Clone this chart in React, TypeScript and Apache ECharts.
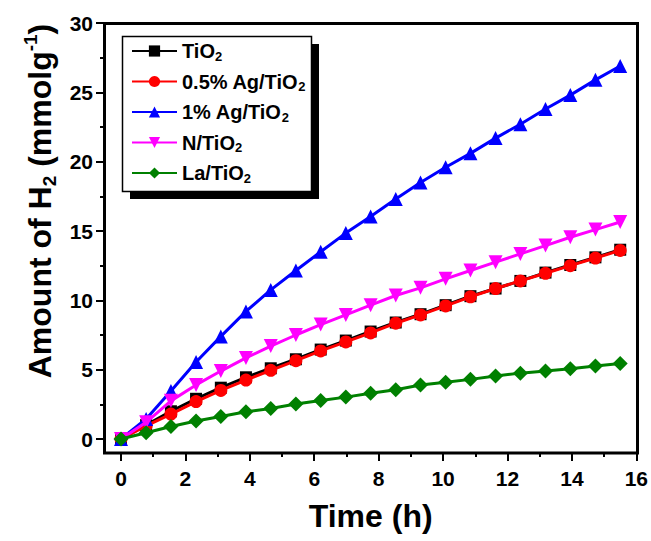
import React, { useEffect, useRef } from 'react';
import * as echarts from 'echarts';

// Time (h) of each measurement
const timeH = [0, 0.78, 1.55, 2.33, 3.1, 3.88, 4.65, 5.43, 6.2, 6.98, 7.75, 8.53, 9.3, 10.08, 10.85, 11.63, 12.4, 13.18, 13.95, 14.73, 15.5];

// Amount of H2 (mmol g^-1)
const tio2 = [0, 1.0, 2.0, 2.9, 3.7, 4.45, 5.1, 5.75, 6.45, 7.1, 7.75, 8.4, 9.0, 9.65, 10.3, 10.85, 11.4, 12.0, 12.55, 13.1, 13.65];
const ag05 = [0, 0.95, 1.8, 2.7, 3.5, 4.25, 4.95, 5.65, 6.35, 7.0, 7.65, 8.35, 8.95, 9.6, 10.25, 10.85, 11.4, 11.95, 12.5, 13.05, 13.6];
const ag1 = [0, 1.45, 3.46, 5.55, 7.4, 9.2, 10.75, 12.15, 13.5, 14.85, 16.05, 17.3, 18.5, 19.6, 20.6, 21.7, 22.7, 23.8, 24.8, 25.9, 26.9];
const nTio2 = [0, 1.2, 2.75, 3.9, 4.9, 5.85, 6.7, 7.5, 8.25, 8.95, 9.65, 10.35, 10.9, 11.55, 12.15, 12.75, 13.35, 13.95, 14.55, 15.1, 15.65];
const laTio2 = [0, 0.45, 0.9, 1.3, 1.62, 1.97, 2.2, 2.52, 2.78, 3.02, 3.3, 3.55, 3.9, 4.1, 4.3, 4.55, 4.75, 4.9, 5.07, 5.26, 5.45];

const seriesNames = ['TiO2', '0.5% Ag/TiO2', '1% Ag/TiO2', 'N/TiO2', 'La/TiO2'];
const legendLabels: Record<string, string> = {
  'TiO2': '{a|TiO}{s|2}',
  '0.5% Ag/TiO2': '{a|0.5% Ag/TiO}{s|2}',
  '1% Ag/TiO2': '{a|1% Ag/TiO}{s|2}',
  'N/TiO2': '{a|N/TiO}{s|2}',
  'La/TiO2': '{a|La/TiO}{s|2}',
};

const xMin = 0, xMax = 16, xInterval = 2, xMinorInterval = 1;
const yMin = 0, yMax = 30, yInterval = 5, yMinorInterval = 2.5;

const FONT = '"Liberation Sans", Arial, Helvetica, sans-serif';

export default function App() {
  const ref = useRef<HTMLDivElement>(null);
  useEffect(() => {
    if (!ref.current) return;
    const chart = echarts.init(ref.current, undefined, { renderer: 'svg' });
    const valueSets = [tio2, ag05, ag1, nTio2, laTio2];
    const colors = ['#000000', '#ff0000', '#0000ff', '#ff00ff', '#008000'];
    const symbols = ['rect', 'circle', 'triangle', 'triangle', 'diamond'];
    const rotates = [0, 0, 0, 180, 0];
    const sizes = [12, 13, 14, 14, 15];

    const series = seriesNames.map((name, k) => ({
      name,
      type: 'line',
      xAxisIndex: 0,
      yAxisIndex: 0,
      data: timeH.map((t, i) => [t, valueSets[k][i]]),
      symbol: symbols[k],
      symbolRotate: rotates[k],
      symbolSize: sizes[k],
      showAllSymbol: true,
      lineStyle: { color: colors[k], width: 3 },
      itemStyle: { color: colors[k] },
      z: 2 + k,
    }));

    const tickStyle = { color: '#000', width: 2 };
    const labelStyle = { fontSize: 21, fontWeight: 'bold', fontFamily: FONT, color: '#000' };
    const hiddenLine = { show: false, onZero: false };

    chart.setOption({
      animation: false,
      backgroundColor: '#ffffff',
      grid: { left: 121, right: 14, top: 23, bottom: 102, containLabel: false },
      xAxis: [
        {
          type: 'value',
          min: xMin,
          max: xMax,
          interval: xInterval,
          offset: 14,
          position: 'bottom',
          name: 'Time (h)',
          nameLocation: 'middle',
          nameGap: 47,
          nameTextStyle: { fontSize: 32, fontWeight: 'bold', fontFamily: FONT, color: '#000', padding: [0, 16, 0, 0] },
          axisLine: hiddenLine,
          axisTick: { show: true, inside: false, length: 8, lineStyle: tickStyle },
          axisLabel: { ...labelStyle, margin: 15 },
          splitLine: { show: false },
        },
        {
          type: 'value',
          min: xMin,
          max: xMax,
          interval: xMinorInterval,
          offset: 14,
          position: 'bottom',
          axisLine: hiddenLine,
          axisTick: { show: true, inside: false, length: 4, lineStyle: tickStyle },
          axisLabel: { show: false },
          splitLine: { show: false },
        },
      ],
      yAxis: [
        {
          type: 'value',
          min: yMin,
          max: yMax,
          interval: yInterval,
          offset: 17,
          position: 'left',
          name: '{a|Amount of H}{s|2}{a| (mmolg}{p|-1}{a|)}',
          nameLocation: 'middle',
          nameRotate: 90,
          nameGap: 44,
          nameTextStyle: {
            fontSize: 32,
            fontWeight: 'bold',
            fontFamily: FONT,
            color: '#000',
            padding: [0, 0, 0, 60],
            rich: {
              a: { fontSize: 32, fontWeight: 'bold', fontFamily: FONT, color: '#000', lineHeight: 38 },
              s: { fontSize: 19, fontWeight: 'bold', fontFamily: FONT, color: '#000', verticalAlign: 'bottom', lineHeight: 19 },
              p: { fontSize: 19, fontWeight: 'bold', fontFamily: FONT, color: '#000', verticalAlign: 'top', lineHeight: 19 },
            },
          },
          axisLine: hiddenLine,
          axisTick: { show: true, inside: false, length: 8, lineStyle: tickStyle },
          axisLabel: { ...labelStyle, margin: 11 },
          splitLine: { show: false },
        },
        {
          type: 'value',
          min: yMin,
          max: yMax,
          interval: yMinorInterval,
          offset: 17,
          position: 'left',
          axisLine: hiddenLine,
          axisTick: { show: true, inside: false, length: 4, lineStyle: tickStyle },
          axisLabel: { show: false },
          splitLine: { show: false },
        },
      ],
      legend: {
        orient: 'vertical',
        left: 131,
        top: 41,
        padding: 0,
        itemWidth: 45,
        itemHeight: 14,
        itemGap: 9,
        data: seriesNames,
        formatter: (n: string) => legendLabels[n] || n,
        textStyle: {
          fontFamily: FONT,
          rich: {
            a: { fontSize: 20, fontWeight: 'bold', fontFamily: FONT, color: '#000', lineHeight: 23 },
            s: { fontSize: 13, fontWeight: 'bold', fontFamily: FONT, color: '#000', verticalAlign: 'bottom', lineHeight: 13 },
          },
        },
        z: 10,
      },
      graphic: [
        { type: 'rect', z: 0, shape: { x: 130, y: 44, width: 189, height: 155 }, style: { fill: '#000' } },
        { type: 'rect', z: 1, shape: { x: 122.5, y: 36.5, width: 189, height: 155 }, style: { fill: '#fff', stroke: '#000', lineWidth: 1.5 } },
        { type: 'rect', z: 1, shape: { x: 104.5, y: 23.5, width: 533, height: 429.5 }, style: { fill: 'none', stroke: '#000', lineWidth: 3 } },
      ],
      series,
    });
    return () => chart.dispose();
  }, []);
  return <div ref={ref} style={{ position: 'fixed', left: 0, top: 0, width: 651, height: 541 }} />;
}
